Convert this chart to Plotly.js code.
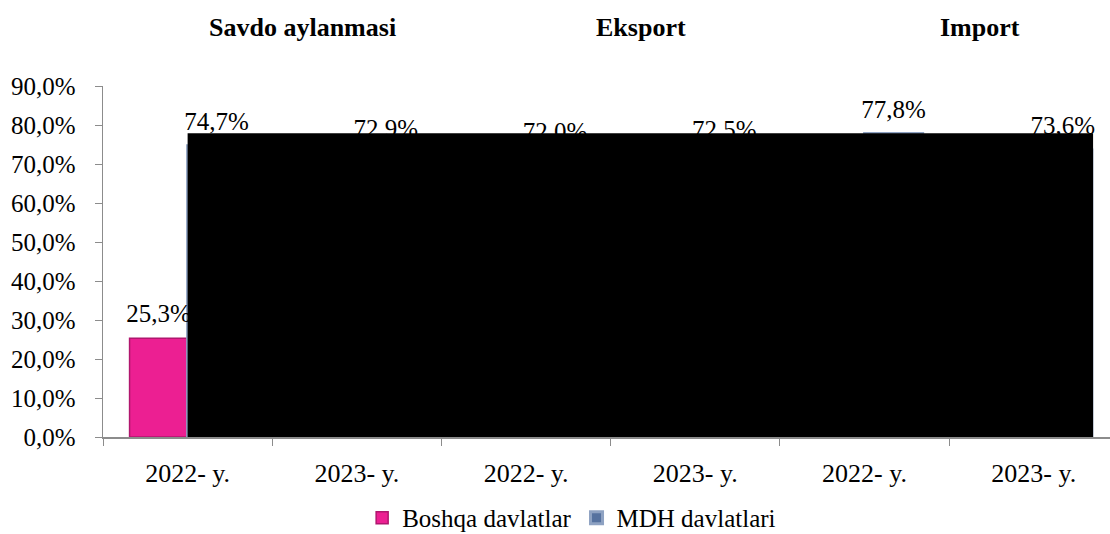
<!DOCTYPE html>
<html>
<head>
<meta charset="utf-8">
<script src="https://cdn.plot.ly/plotly-3.0.1.min.js"></script>
<style>
  html, body { margin: 0; padding: 0; background: #fff; }
  #chart { width: 1110px; height: 534px; }
</style>
</head>
<body>
<div id="chart"></div>
<script>
// 数据：分类、分组标题与两组序列
var categories = ['2022- y.', '2023- y.', '2022- y. ', '2023- y. ', '2022- y.  ', '2023- y.  '];
var tickLabels = ['2022- y.', '2023- y.', '2022- y.', '2023- y.', '2022- y.', '2023- y.'];
var groupTitles = ['Savdo aylanmasi', 'Eksport', 'Import'];
var boshqaValues = [0.253, 0.271, 0.280, 0.275, 0.222, 0.264];
var mdhValues = [0.747, 0.729, 0.720, 0.725, 0.778, 0.736];

var serif = '"Liberation Serif", "DejaVu Serif", serif';
var axisGray = '#8c8c8c';
var pink = '#ec1f92';
var blue = '#56729f';

function barTrace(name, values, color, edge, edgeWidth) {
  return {
    type: 'bar',
    name: name,
    x: categories,
    y: values,
    marker: { color: color, line: { color: edge, width: edgeWidth } },
    hoverinfo: 'skip'
  };
}

// 数据标签：用分组散点放在柱顶上方（透明标记把文字抬高）
function labelTrace(values) {
  return {
    type: 'scatter',
    mode: 'markers+text',
    x: categories,
    y: values,
    showlegend: false,
    marker: { size: 14, opacity: 0 },
    texttemplate: '%{y:.1%}',
    textposition: 'top center',
    textfont: { family: serif, size: 25, color: '#000' },
    cliponaxis: false,
    hoverinfo: 'skip'
  };
}

var traces = [
  barTrace('Boshqa davlatlar', boshqaValues, pink, '#b0166e', 1.5),
  barTrace('MDH davlatlari', mdhValues, blue, '#8ea2c2', 3),
  labelTrace(boshqaValues),
  labelTrace(mdhValues)
];

// 分组标题（每两个分类一组）
var annotations = groupTitles.map(function(t, g) {
  return {
    text: '<b>' + t + '</b>',
    xref: 'x', yref: 'paper',
    x: 2 * g + 0.68, y: 1.168,
    xanchor: 'center', yanchor: 'middle',
    showarrow: false,
    font: { family: serif, size: 26, color: '#000' }
  };
});

var layout = {
  width: 1110,
  height: 534,
  margin: { l: 103, r: 0, t: 86, b: 97 },
  paper_bgcolor: '#fff',
  plot_bgcolor: '#fff',
  separators: ', ',
  barmode: 'group',
  bargap: 0.314,
  bargroupgap: 0,
  scattermode: 'group',
  scattergap: 0.314,
  showlegend: true,
  legend: {
    orientation: 'h',
    xref: 'container', yref: 'container',
    x: 0.515, xanchor: 'center',
    y: 0.03, yanchor: 'middle',
    font: { family: serif, size: 25, color: '#000' },
    itemwidth: 30,
    tracegroupgap: 0
  },
  xaxis: {
    type: 'category',
    range: [-0.5, 5.45],
    tickvals: categories,
    ticktext: tickLabels,
    tickson: 'boundaries',
    ticks: 'outside',
    ticklen: 7,
    tickcolor: axisGray,
    showline: true,
    linecolor: axisGray,
    linewidth: 1.5,
    showgrid: false,
    automargin: false,
    ticklabelstandoff: 12,
    tickfont: { family: serif, size: 26, color: '#000' }
  },
  yaxis: {
    range: [0, 0.9],
    dtick: 0.1,
    tickformat: '.1%',
    ticks: 'outside',
    ticklen: 7,
    tickcolor: axisGray,
    showline: true,
    linecolor: axisGray,
    linewidth: 1.5,
    showgrid: false,
    zeroline: false,
    automargin: false,
    ticklabelstandoff: 14,
    tickfont: { family: serif, size: 25, color: '#000' }
  },
  // 参考图中覆盖大部分柱形的黑色矩形
  shapes: [{
    type: 'rect',
    layer: 'above',
    xref: 'x', yref: 'y',
    x0: 0, x1: 5.35,
    y0: 0, y1: 0.779,
    fillcolor: '#000',
    line: { width: 0 }
  }],
  annotations: annotations
};

Plotly.newPlot('chart', traces, layout, { displayModeBar: false, staticPlot: true });
</script>
</body>
</html>
